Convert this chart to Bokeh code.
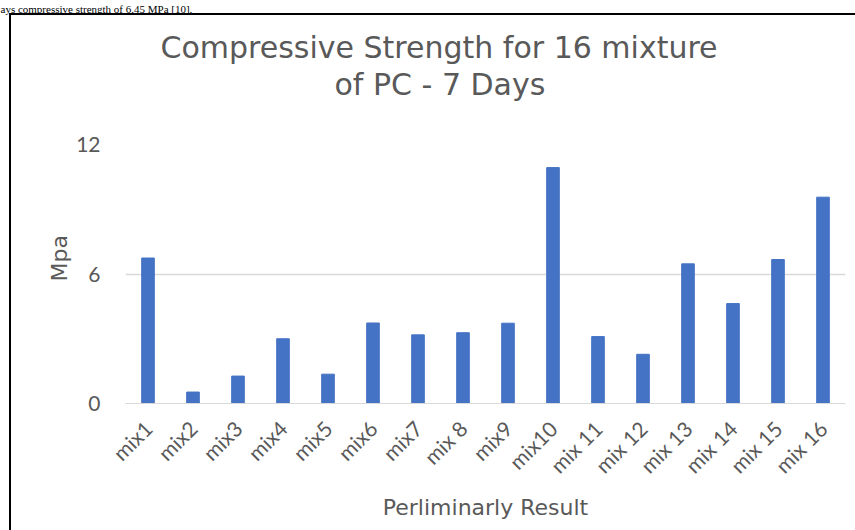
from math import pi
from bokeh.plotting import figure
from bokeh.models import Range1d, FixedTicker, Title
from bokeh.embed import file_html
from bokeh.resources import INLINE

# ---- data ----
categories = ["mix1", "mix2", "mix3", "mix4", "mix5", "mix6", "mix7", "mix 8",
              "mix9", "mix10", "mix 11", "mix 12", "mix 13", "mix 14", "mix 15", "mix 16"]
strength = [6.74, 0.53, 1.27, 3.0, 1.36, 3.73, 3.18, 3.28,
            3.72, 10.93, 3.1, 2.28, 6.47, 4.63, 6.67, 9.56]
y_ticks = [0, 6, 12]
title_lines = ["Compressive Strength for 16 mixture", "of PC - 7 Days"]
y_title = "Mpa"
x_title = "Perliminarly Result"
caption = "ays compressive strength of 6.45 MPa [10]."

# ---- layout (canvas pixels) ----
W, H = 855, 530
FL, FT = 125, 144          # frame left / top
FW, FH = 720, 259          # frame width / height
TXT = "#595959"
FONT = "Lato"
TFONT = "DejaVu Sans"

p = figure(width=W, height=H, x_range=categories, y_range=Range1d(0, 12),
           frame_width=FW, frame_height=FH,
           min_border_left=FL, min_border_top=FT,
           min_border_right=W - FL - FW, min_border_bottom=H - FT - FH,
           output_backend="svg", toolbar_location=None,
           styles={"background-image": "linear-gradient(#000,#000), linear-gradient(#000,#000)",
                   "background-size": "2px 700px, 900px 2px",
                   "background-position": "9px 13px, 9px 13px",
                   "background-repeat": "no-repeat"})
p.outline_line_color = None
p.background_fill_color = "white"
p.border_fill_color = None

p.vbar(x=categories, top=strength, width=0.28, color="#4472C4")

# y axis
p.yaxis.ticker = FixedTicker(ticks=y_ticks)
p.yaxis.axis_line_color = None
p.yaxis.major_tick_line_color = None
p.yaxis.minor_tick_line_color = None
p.yaxis.major_tick_out = 0
p.yaxis.major_tick_in = 0
p.yaxis.major_label_standoff = 25
p.yaxis.major_label_text_font = FONT
p.yaxis.major_label_text_font_size = "21px"
p.yaxis.major_label_text_color = TXT

# x axis
p.xaxis.axis_line_color = "#D9D9D9"
p.xaxis.major_tick_line_color = None
p.xaxis.major_tick_out = 0
p.xaxis.major_tick_in = 0
p.xaxis.major_label_orientation = pi / 4
p.xaxis.major_label_standoff = 21
p.xaxis.major_label_text_font = FONT
p.xaxis.major_label_text_font_size = "21px"
p.xaxis.major_label_text_color = TXT
p.xaxis.axis_label = x_title
p.xaxis.axis_label_standoff = 6
p.xaxis.axis_label_text_font = TFONT
p.xaxis.axis_label_text_font_size = "22px"
p.xaxis.axis_label_text_font_style = "normal"
p.xaxis.axis_label_text_color = TXT

p.xgrid.grid_line_color = None
p.ygrid.ticker = FixedTicker(ticks=y_ticks)
p.ygrid.grid_line_color = "#D9D9D9"
p.ygrid.grid_line_width = 1.5

# y-axis title on the left side (outside the tick labels), then a spacer
p.add_layout(Title(text=y_title, align="left", offset=122, standoff=3,
                   vertical_align="bottom",
                   text_font=TFONT, text_font_size="22px", text_font_style="normal",
                   text_color=TXT), "left")
p.add_layout(Title(text=" ", text_font_size="1px", standoff=39), "left")

# titles stacked above the frame (first added = nearest to the frame)
p.add_layout(Title(text=" ", text_font_size="1px", standoff=40), "above")
p.add_layout(Title(text=title_lines[1], align="left", offset=209, standoff=0,
                   text_font=TFONT, text_font_size="30px", text_font_style="normal",
                   text_color=TXT), "above")
p.add_layout(Title(text=title_lines[0], align="left", offset=35, standoff=0,
                   text_font=TFONT, text_font_size="30px", text_font_style="normal",
                   text_color=TXT), "above")
p.add_layout(Title(text=" ", text_font_size="1px", standoff=10), "above")
p.add_layout(Title(text=caption, align="left", offset=-FL, standoff=0,
                   text_font="Liberation Serif", text_font_size="11px",
                   text_font_style="normal", text_color="black"), "above")

open("out.html", "w").write(file_html(p, INLINE))
